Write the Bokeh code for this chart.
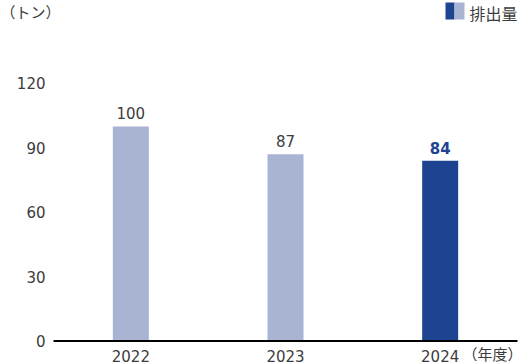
from bokeh.plotting import figure
from bokeh.models import ColumnDataSource, Range1d
from bokeh.core.properties import value
from bokeh.embed import file_html
from bokeh.resources import INLINE

# ---- data ----
years = ["2022", "2023", "2024"]
emissions = [100, 87, 84]
y_ticks = [0, 30, 60, 90, 120]
unit_label = "（トン）"
x_unit_label = "（年度）"
legend_label = "排出量"

LIGHT = "#a9b4d3"
DARK = "#1e4391"
TEXT = "#3c3c3c"

# ---- layout (canvas px) ----
W, H = 524, 364
PL, PR = 53, 517           # plotting area left / right
Y0_PX = 340.5              # canvas px of value 0
PX_PER_UNIT = 2.146
X_PX = (PR - PL) / len(years)

x_range = Range1d(-PL / X_PX, len(years) + (W - PR) / X_PX)
y_range = Range1d(-(H - Y0_PX) / PX_PER_UNIT, Y0_PX / PX_PER_UNIT)


def px_x(cx):
    return (cx - PL) / X_PX


def px_y(cy):
    return (Y0_PX - cy) / PX_PER_UNIT


xs = [i + 0.5 for i in range(len(years))]
bar_colors = [LIGHT] * (len(years) - 1) + [DARK]
lbl_colors = [TEXT] * (len(years) - 1) + [DARK]
lbl_styles = ["normal"] * (len(years) - 1) + ["bold"]

src = ColumnDataSource(dict(x=xs, top=emissions, year=years,
                            color=bar_colors, lcolor=lbl_colors,
                            lstyle=lbl_styles,
                            lbl=[str(v) for v in emissions],
                            zero=[0] * len(years)))

p = figure(width=W, height=H, output_backend="svg", toolbar_location=None,
           x_range=x_range, y_range=y_range,
           min_border_left=0, min_border_right=0,
           min_border_top=0, min_border_bottom=0)
p.outline_line_color = None
p.background_fill_color = "white"
p.border_fill_color = "white"
p.xgrid.visible = False
p.ygrid.visible = False
p.xaxis.visible = False
p.yaxis.visible = False

# bars
p.vbar(x="x", top="top", bottom=0, width=36 / X_PX, color="color",
       line_color=None, source=src)

# baseline (x axis line)
p.segment(x0=[0], y0=[0], x1=[len(years)], y1=[0], line_color="black",
          line_width=2)

# y tick labels
p.text(x=[0] * len(y_ticks), y=y_ticks, text=[str(t) for t in y_ticks],
       x_offset=-8, text_align="right", text_baseline="middle",
       text_color=TEXT, text_font=value("DejaVu Sans"),
       text_font_size="15px")

# value labels
p.text(x="x", y="top", text="lbl", source=src, text_align="center",
       text_baseline="middle", y_offset=-13, text_color="lcolor",
       text_font_style="lstyle", text_font=value("DejaVu Sans"),
       text_font_size="15px")

# category labels
p.text(x="x", y="zero", text="year", source=src, text_align="center",
       text_baseline="middle", y_offset=14.5, text_color=TEXT,
       text_font=value("DejaVu Sans"), text_font_size="15px")
p.text(x=[len(years)], y=[0], text=[x_unit_label], text_align="right",
       text_baseline="middle", x_offset=5, y_offset=12, text_color=TEXT,
       text_font=value("Noto Sans CJK JP"), text_font_size="15px")

# unit label (top-left)
p.text(x=[px_x(0)], y=[px_y(11)], text=[unit_label], text_align="left",
       text_baseline="middle", text_color=TEXT,
       text_font=value("Noto Sans CJK JP"), text_font_size="15px")

# legend swatch + text (top-right)
p.quad(left=[px_x(445)], right=[px_x(454)], top=[px_y(2)],
       bottom=[px_y(19)], color=DARK, line_color=None)
p.quad(left=[px_x(454)], right=[px_x(464)], top=[px_y(2)],
       bottom=[px_y(19)], color=LIGHT, line_color=None)
p.text(x=[px_x(469)], y=[px_y(12)], text=[legend_label], text_align="left",
       text_baseline="middle", text_color=TEXT,
       text_font=value("Noto Sans CJK JP"), text_font_size="16px")

open("out.html", "w").write(file_html(p, INLINE))
